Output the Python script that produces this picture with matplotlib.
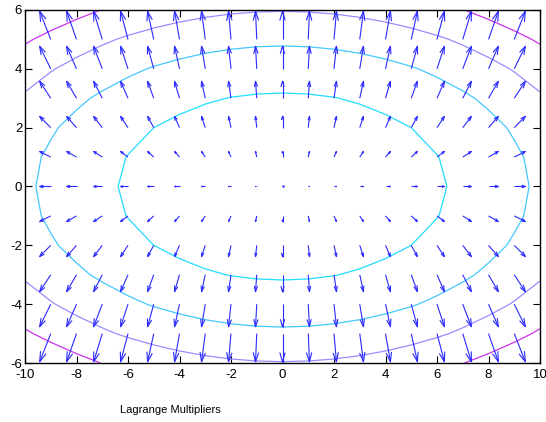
import matplotlib
matplotlib.use("Agg")
import matplotlib.pyplot as plt
import numpy as np
from matplotlib.collections import LineCollection

# grid of the gradient field (arrow tails)
x_grid = [-10, -9, -8, -7, -6, -5, -4, -3, -2, -1, 0, 1, 2, 3, 4, 5, 6, 7, 8, 9, 10]
y_grid = [-6, -5, -4, -3, -2, -1, 0, 1, 2, 3, 4, 5, 6]
# gradient components of f = x^2 + 4y^2 per column / per row
u_col = [-20, -18, -16, -14, -12, -10, -8, -6, -4, -2, 0, 2, 4, 6, 8, 10, 12, 14, 16, 18, 20]
v_row = [-48, -40, -32, -24, -16, -8, 0, 8, 16, 24, 32, 40, 48]
levels = [41, 92, 142, 194]
level_colors = ['#22ddff', '#44c8ff', '#9a8cff', '#cc33ee']
arrow_scale = 0.024

X, Y = np.meshgrid(x_grid, y_grid)
U, V = np.meshgrid(u_col, v_row)
Z = X**2 + 4*Y**2

plt.rcParams['font.family'] = ['Liberation Sans', 'DejaVu Sans']
plt.rcParams['axes.unicode_minus'] = False
fig = plt.figure(figsize=(5.46, 4.22), dpi=100)
ax = fig.add_axes([25/546, 59/422, 515/546, 353/422])

ax.contour(X, Y, Z, levels=levels, colors=level_colors, linewidths=0.9)

# MATLAB style line arrows
u = U.ravel()*arrow_scale
v = V.ravel()*arrow_scale
x0 = X.ravel().astype(float)
y0 = Y.ravel().astype(float)
alpha, beta = 0.33, 0.33
segs = []
for xi, yi, ui, vi in zip(x0, y0, u, v):
    if ui == 0 and vi == 0:
        continue
    tx, ty = xi+ui, yi+vi
    segs.append([(xi, yi), (tx, ty)])
    segs.append([(tx-alpha*(ui+beta*vi), ty-alpha*(vi-beta*ui)), (tx, ty),
                 (tx-alpha*(ui-beta*vi), ty-alpha*(vi+beta*ui))])
ax.add_collection(LineCollection(segs, colors='#2a2aff', linewidths=0.8))
ax.plot([0], [0], '.', color='#2a2aff', markersize=1.5)

ax.set_xlim(-10, 10)
ax.set_ylim(-6, 6)
ax.set_xticks(range(-10, 11, 2))
ax.set_yticks(range(-6, 7, 2))
ax.tick_params(direction='in', top=True, right=True, length=5, width=0.8,
               labelsize=9.5)
ax.tick_params(axis='x', pad=4)
ax.tick_params(axis='y', pad=2)
for s in ax.spines.values():
    s.set_linewidth(1)

fig.text(120/546, 9/422, 'Lagrange Multipliers', fontsize=8)
fig.savefig('out.png', dpi=100)
